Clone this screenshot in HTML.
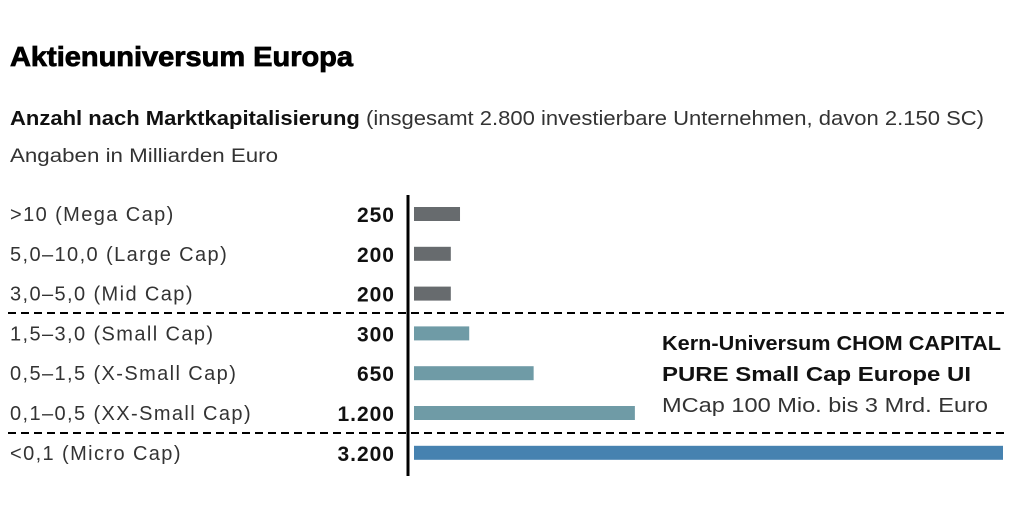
<!DOCTYPE html>
<html><head><meta charset="utf-8"><style>
body{margin:0;background:#fff;width:1014px;height:518px;overflow:hidden;font-family:"Liberation Sans",sans-serif;color:#111}
svg{position:absolute;left:0;top:0}
</style></head><body>
<svg width="1014" height="518">
<text x="10" y="66" font-size="28" font-weight="bold" font-family="Liberation Sans Narrow, Liberation Sans, sans-serif" textLength="343" lengthAdjust="spacingAndGlyphs" stroke="#000" stroke-width="0.8">Aktienuniversum Europa</text>
<text x="10" y="125" font-size="20" textLength="974" lengthAdjust="spacingAndGlyphs"><tspan font-weight="bold" fill="#111">Anzahl nach Marktkapitalisierung</tspan><tspan fill="#333"> (insgesamt 2.800 investierbare Unternehmen, davon 2.150 SC)</tspan></text>
<text x="10" y="162" font-size="19" fill="#333" textLength="268" lengthAdjust="spacingAndGlyphs">Angaben in Milliarden Euro</text>
<g id="bars"></g>
<line x1="408" y1="195" x2="408" y2="476" stroke="#000" stroke-width="3"/>
<line x1="8" y1="313" x2="1004" y2="313" stroke="#000" stroke-width="2" stroke-dasharray="8,5"/>
<line x1="8" y1="433" x2="1004" y2="433" stroke="#000" stroke-width="2" stroke-dasharray="8,5"/>
<g font-size="20" fill="#111">
<text x="662" y="350" font-weight="bold" textLength="339" lengthAdjust="spacingAndGlyphs">Kern-Universum CHOM CAPITAL</text>
<text x="662" y="381" font-weight="bold" textLength="309" lengthAdjust="spacingAndGlyphs">PURE Small Cap Europe UI</text>
<text x="662" y="412" fill="#333" textLength="326" lengthAdjust="spacingAndGlyphs">MCap 100 Mio. bis 3 Mrd. Euro</text>
</g>
</svg>
<script>
const categories=[">10 (Mega Cap)","5,0–10,0 (Large Cap)","3,0–5,0 (Mid Cap)","1,5–3,0 (Small Cap)","0,5–1,5 (X-Small Cap)","0,1–0,5 (XX-Small Cap)","<0,1 (Micro Cap)"];
const values=[250,200,200,300,650,1200,3200];
const valueLabels=["250","200","200","300","650","1.200","3.200"];
const groups=["big","big","big","small","small","small","micro"];
const colors={big:"#676b6e",small:"#6f9ba6",micro:"#4682b0"};
const x0=414,xMax=3200,xW=589;
function xs(v){return v/xMax*xW;}
function yc(i){return 214+i*39.8;}
const g=document.getElementById('bars');
const NS="http://www.w3.org/2000/svg";
categories.forEach((c,i)=>{
  const y=yc(i);
  const r=document.createElementNS(NS,'rect');
  r.setAttribute('x',x0);r.setAttribute('y',y-7);r.setAttribute('width',xs(values[i]));r.setAttribute('height',14);r.setAttribute('fill',colors[groups[i]]);
  
  
  g.appendChild(r);
  const t=document.createElementNS(NS,'text');
  t.setAttribute('x',10);t.setAttribute('y',y+7);t.setAttribute('font-size','20');t.setAttribute('fill','#333');t.setAttribute('letter-spacing','1.4');
  t.textContent=c;
  
  
  g.appendChild(t);
  const v=document.createElementNS(NS,'text');
  v.setAttribute('x',395);v.setAttribute('y',y+8);v.setAttribute('font-size','21');v.setAttribute('font-weight','bold');v.setAttribute('text-anchor','end');v.setAttribute('fill','#111');v.setAttribute('letter-spacing','1');
  v.textContent=valueLabels[i];
  
  
  g.appendChild(v);
});
</script>
</body></html>
